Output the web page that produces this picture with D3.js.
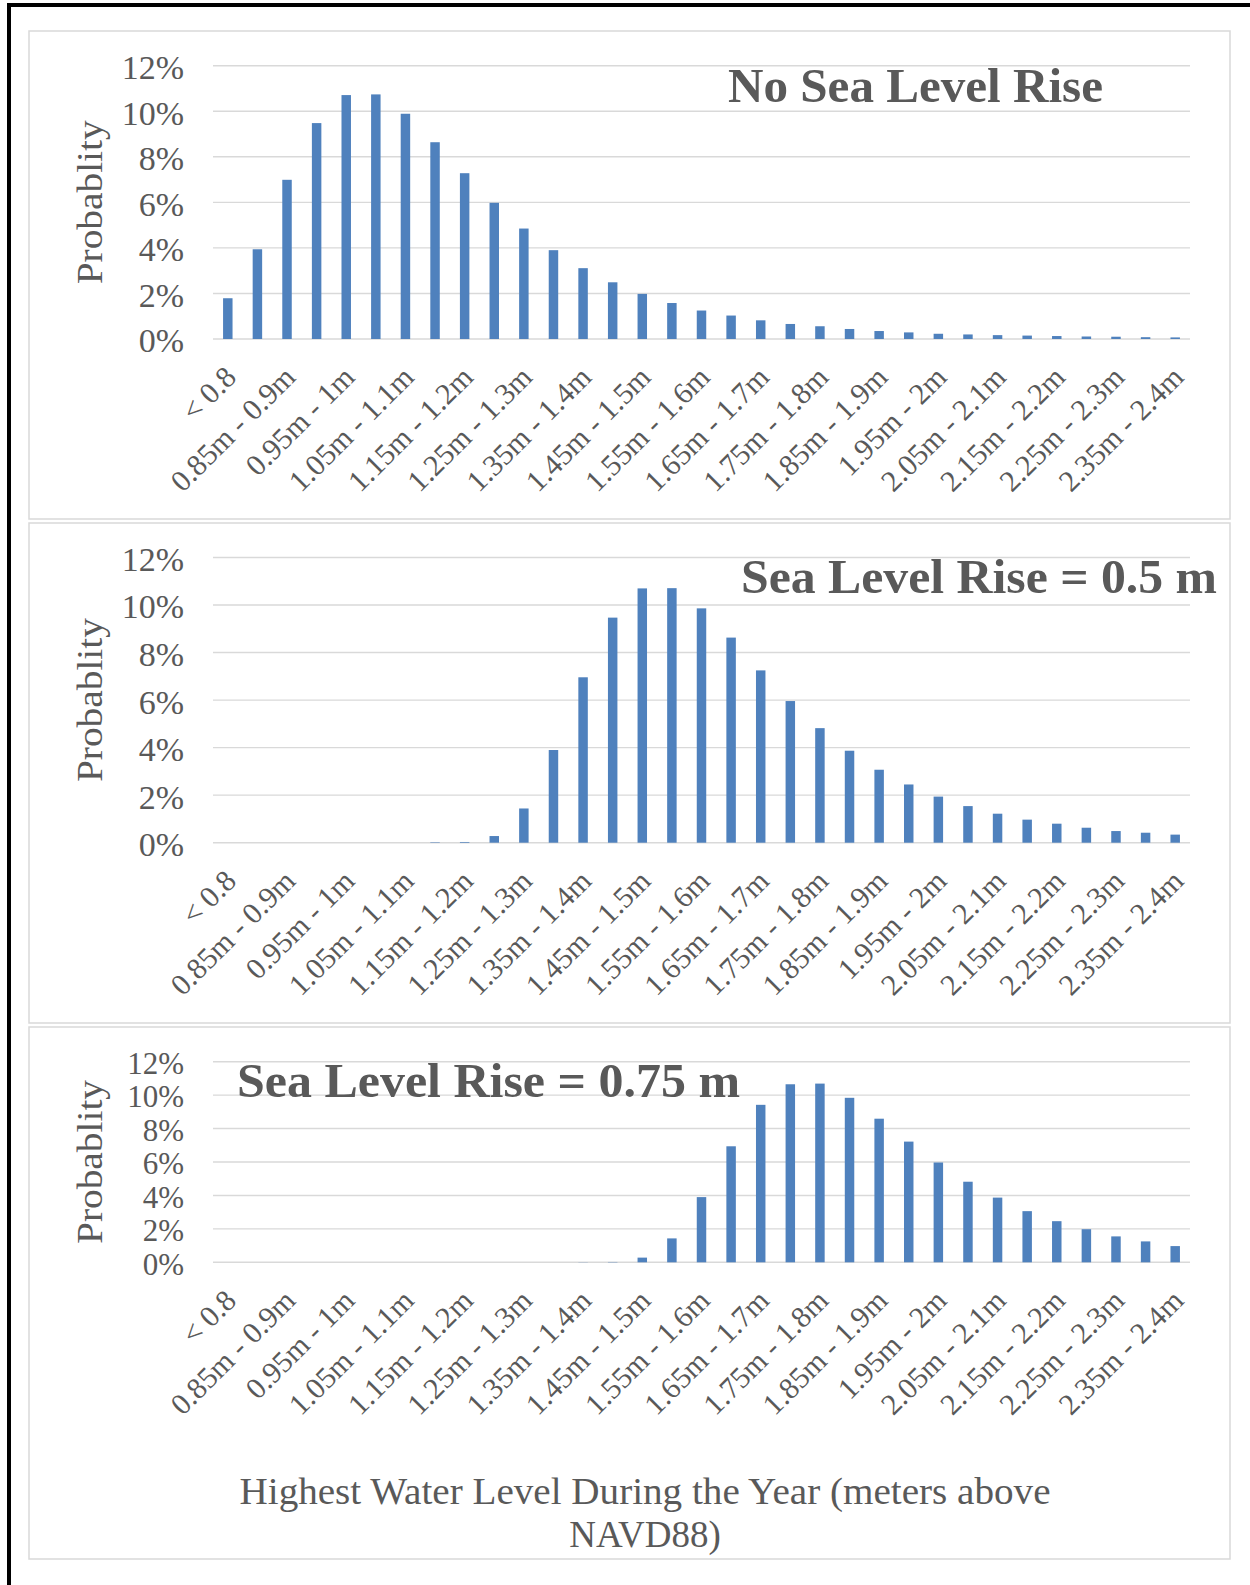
<!DOCTYPE html>
<html><head><meta charset="utf-8">
<script src="https://cdn.jsdelivr.net/npm/d3@7"></script>
<style>body{margin:0;background:#fff}</style>
</head><body>
<svg id="c" width="1250" height="1585"></svg>
<script>
// ---------- DATA ----------
const categories = [
  "< 0.8", "0.8m - 0.85m", "0.85m - 0.9m", "0.9m - 0.95m", "0.95m - 1m",
  "1m - 1.05m", "1.05m - 1.1m", "1.1m - 1.15m", "1.15m - 1.2m", "1.2m - 1.25m",
  "1.25m - 1.3m", "1.3m - 1.35m", "1.35m - 1.4m", "1.4m - 1.45m", "1.45m - 1.5m",
  "1.5m - 1.55m", "1.55m - 1.6m", "1.6m - 1.65m", "1.65m - 1.7m", "1.7m - 1.75m",
  "1.75m - 1.8m", "1.8m - 1.85m", "1.85m - 1.9m", "1.9m - 1.95m", "1.95m - 2m",
  "2m - 2.05m", "2.05m - 2.1m", "2.1m - 2.15m", "2.15m - 2.2m", "2.2m - 2.25m",
  "2.25m - 2.3m", "2.3m - 2.35m", "2.35m - 2.4m"
];
const yTicks = [0, 2, 4, 6, 8, 10, 12];   // percent
const noRise = [1.79, 3.94, 6.99, 9.48, 10.71, 10.74, 9.89, 8.64, 7.28, 5.98, 4.85, 3.90, 3.11, 2.49, 1.98, 1.58, 1.25,
  1.03, 0.82, 0.66, 0.56, 0.44, 0.35, 0.29, 0.23, 0.20, 0.17, 0.15, 0.13, 0.11, 0.10, 0.08, 0.07];
const rise050 = [0, 0, 0, 0, 0, 0, 0, 0.02, 0.03, 0.28, 1.44, 3.90, 6.96, 9.47, 10.70, 10.71, 9.86,
  8.63, 7.25, 5.96, 4.82, 3.87, 3.07, 2.45, 1.94, 1.54, 1.22, 0.97, 0.80, 0.63, 0.49, 0.42, 0.34];
const rise075 = [0, 0, 0, 0, 0, 0, 0, 0, 0, 0, 0, 0, 0.01, 0.02, 0.28, 1.43, 3.90,
  6.94, 9.42, 10.65, 10.69, 9.84, 8.59, 7.22, 5.97, 4.82, 3.87, 3.06, 2.46, 1.98, 1.55, 1.25, 0.97];
const panelTitles = ["No Sea Level Rise", "Sea Level Rise = 0.5 m", "Sea Level Rise = 0.75 m"];
const yAxisTitle = "Probablity";
const xAxisTitleLines = ["Highest Water Level During the Year (meters above", "NAVD88)"];

// ---------- LAYOUT ----------
const TEXT = "#595959", GRID = "#d9d9d9", BAR = "#4f81bd";
const FONT = "'Liberation Serif', 'Times New Roman', serif";
const panels = [
  {data: noRise,  title: panelTitles[0], box: [29, 31, 1230, 519],   y0: 339,   y12: 65.7,
   tx: 728, ty: 102, tlen: 375, tickFs: 34},
  {data: rise050, title: panelTitles[1], box: [29, 523, 1230, 1023], y0: 842.7, y12: 557.5,
   tx: 741, ty: 593, tlen: 476, tickFs: 34},
  {data: rise075, title: panelTitles[2], box: [29, 1027, 1230, 1559], y0: 1262.3, y12: 1061.7,
   tx: 237, ty: 1097, tlen: 503, tickFs: 31}
];
const plotX0 = 213, plotX1 = 1190;

const svg = d3.select("#c");
svg.append("rect").attr("width", 1250).attr("height", 1585).attr("fill", "#fff");

const x = d3.scaleBand().domain(categories).range([plotX0, plotX1]).paddingInner(0.68).paddingOuter(0.34);

panels.forEach(p => {
  const g = svg.append("g");
  const [bx0, by0, bx1, by1] = p.box;
  g.append("rect").attr("x", bx0).attr("y", by0).attr("width", bx1 - bx0).attr("height", by1 - by0)
    .attr("fill", "#fff").attr("stroke", GRID).attr("stroke-width", 1.5);

  const y = d3.scaleLinear().domain([0, 12]).range([p.y0, p.y12]);

  // gridlines
  g.append("g").selectAll("line").data(yTicks).join("line")
    .attr("x1", plotX0).attr("x2", plotX1)
    .attr("y1", d => y(d)).attr("y2", d => y(d))
    .attr("stroke", GRID).attr("stroke-width", 1.4);

  // y tick labels via axis
  const yAxis = d3.axisLeft(y).tickValues(yTicks).tickFormat(d => d + "%").tickSize(0).tickPadding(0);
  const ya = g.append("g").attr("transform", `translate(184,0)`).call(yAxis);
  ya.select(".domain").remove();
  ya.selectAll("text").attr("font-family", FONT).attr("font-size", p.tickFs)
    .attr("fill", TEXT).attr("dy", "0.38em").attr("x", 0);

  // panel title
  g.append("text").attr("x", p.tx).attr("y", p.ty).text(p.title)
    .attr("font-family", FONT).attr("font-weight", "bold").attr("font-size", 49)
    .attr("fill", TEXT).attr("textLength", p.tlen).attr("lengthAdjust", "spacingAndGlyphs");

  // bars
  g.append("g").selectAll("rect").data(p.data).join("rect")
    .attr("x", (d, i) => x(categories[i]))
    .attr("width", x.bandwidth())
    .attr("y", d => y(d))
    .attr("height", d => Math.max(0, p.y0 - y(d)))
    .attr("fill", BAR);

  // x tick labels (every other category)
  const xAxis = d3.axisBottom(x).tickValues(categories.filter((c, i) => i % 2 === 0)).tickSize(0).tickPadding(0);
  const xa = g.append("g").attr("transform", `translate(0,${p.y0})`).call(xAxis);
  xa.select(".domain").remove();
  xa.selectAll("text")
    .attr("font-family", FONT).attr("font-size", 30).attr("fill", TEXT)
    .attr("text-anchor", "end").attr("dy", null).attr("y", null)
    .attr("transform", "translate(10,40) rotate(-45)");

  // y axis title
  g.append("text")
    .attr("transform", `translate(102,${(p.y0 + p.y12) / 2}) rotate(-90)`)
    .attr("text-anchor", "middle").text(yAxisTitle)
    .attr("font-family", FONT).attr("font-size", 36).attr("fill", TEXT)
    .attr("textLength", 164).attr("lengthAdjust", "spacingAndGlyphs");
});

// x axis title
svg.append("text").attr("x", 645).attr("y", 1504).attr("text-anchor", "middle")
  .text(xAxisTitleLines[0]).attr("font-family", FONT).attr("font-size", 37).attr("fill", TEXT)
  .attr("textLength", 811).attr("lengthAdjust", "spacingAndGlyphs");
svg.append("text").attr("x", 645).attr("y", 1547).attr("text-anchor", "middle")
  .text(xAxisTitleLines[1]).attr("font-family", FONT).attr("font-size", 37).attr("fill", TEXT);

// outer black frame (left and top)
svg.append("path").attr("d", "M9,1585 V5 H1250").attr("fill", "none")
  .attr("stroke", "#000").attr("stroke-width", 4);
</script>
</body></html>
